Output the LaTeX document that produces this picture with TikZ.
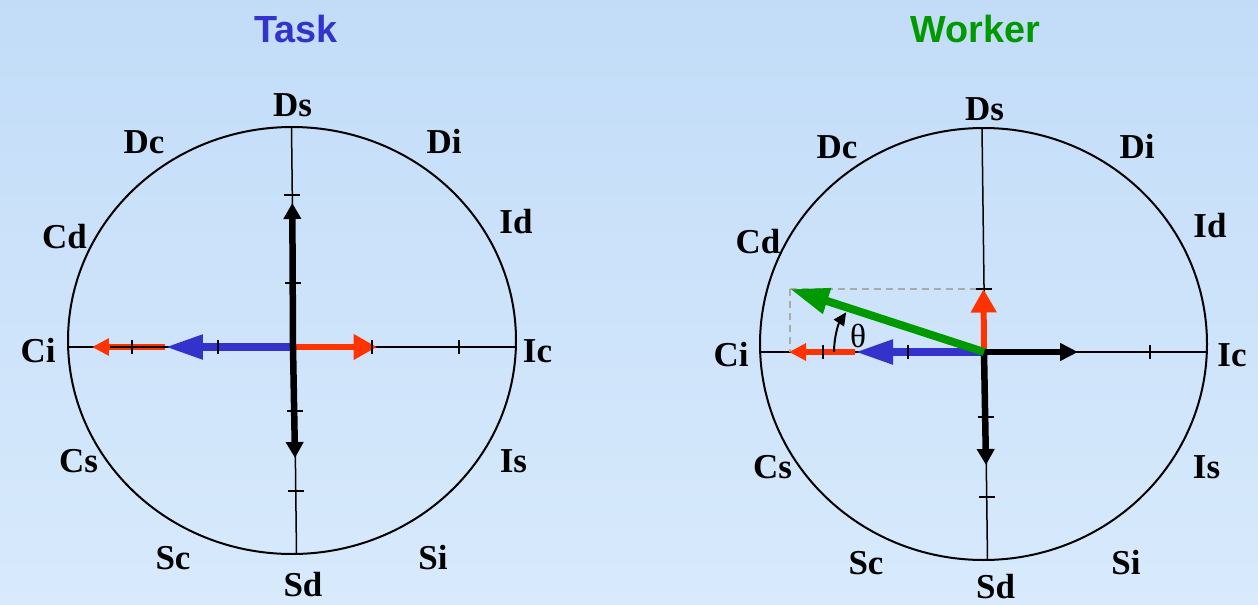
\documentclass[tikz,border=0pt]{standalone}
\usepackage{fontspec}
\setmainfont{Liberation Serif}
\newfontfamily\titlefont{Liberation Sans}
\usetikzlibrary{arrows.meta}
\definecolor{bgtop}{RGB}{194,220,248}
\definecolor{bgbot}{RGB}{216,234,252}
\definecolor{taskblue}{RGB}{51,51,204}
\definecolor{workgreen}{RGB}{0,153,0}
\definecolor{vred}{RGB}{255,51,0}
\definecolor{dashgray}{RGB}{170,170,170}
\begin{document}
\begin{tikzpicture}[x=0.02cm,y=-0.02cm,
  lbl/.style={font=\fontsize{19.9}{20}\selectfont\bfseries, inner sep=0, anchor=base},
  ttl/.style={font=\titlefont\fontsize{21.5}{22}\selectfont\bfseries, inner sep=0, anchor=base},
  rim/.style={line width=0.04cm},
  axisline/.style={line width=0.03cm},
  tickmark/.style={line width=0.03cm},
  blkarr/.style={line width=0.13cm, line cap=butt, -{Triangle[length=0.32cm,width=0.34cm]}},
  blkarrh/.style={line width=0.12cm, line cap=butt, -{Triangle[length=0.36cm,width=0.34cm]}},
  redbig/.style={vred, line width=0.12cm, -{Triangle[length=0.47cm,width=0.49cm]}},
  bluearr/.style={taskblue, line width=0.16cm, -{Triangle[length=0.76cm,width=0.46cm]}},
  redsmall/.style={vred, line width=0.11cm, -{Triangle[length=0.34cm,width=0.33cm]}},
  greenarr/.style={workgreen, line width=0.16cm, -{Triangle[length=0.78cm,width=0.5cm]}},
  guide/.style={dashgray, line width=0.03cm, dash pattern=on 0.14cm off 0.1cm},
  thetaarr/.style={line width=0.04cm, -{Triangle[length=0.26cm,width=0.24cm]}}
]
\useasboundingbox (0,0) rectangle (1258,605);
\shade[top color=bgtop, bottom color=bgbot] (0,0) rectangle (1258,605);

% ================= Titles =================
\node[ttl, text=taskblue] (ttask) at (296,42) {Task};
\node[ttl, text=workgreen] (tworker) at (975.5,42) {Worker};

% ================= Left diagram =================
\draw[rim] (292,340.5) ellipse [x radius=224, y radius=213.5];
\coordinate (Lc) at (293,347);
\coordinate (LW) at (68,347);
\coordinate (LE) at (516,347);
\coordinate (LN) at (291.5,127);
\coordinate (LS) at (296.5,554);
\draw[axisline] (LW) -- (LE);
\draw[axisline] (LN) -- (LS);

\coordinate (Lup) at (292.3,203);
\coordinate (Ldn) at (295,458);
\coordinate (Lrt) at (377,347);
\coordinate (Lbl) at (165,347);
\coordinate (Lrl) at (92,347);
\coordinate (Lax) at (110,347);

\draw[redbig] (Lc) -- (Lrt);
\draw[redsmall] (Lbl) -- (Lrl);
\draw[axisline] (Lax) -- (Lbl);
\draw[bluearr] (Lc) -- (Lbl);
\draw[blkarr] (Lc) -- (Lup);
\draw[blkarr] (Lc) -- (Ldn);

\foreach \tx in {132,218,372,459} \draw[tickmark] (\tx,340) -- (\tx,354);
\foreach \ty/\tx in {195/292.3,283/293.3,411/294.8,491/295.8} \draw[tickmark] (\tx-8,\ty) -- (\tx+8,\ty);

\node[lbl] (LDs) at (292.5,116.5) {Ds};
\node[lbl] (LDi) at (444,153.5) {Di};
\node[lbl] (LDc) at (144,153.5) {Dc};
\node[lbl] (LId) at (516,233.5) {Id};
\node[lbl] (LCd) at (64.5,248) {Cd};
\node[lbl] (LCi) at (38,362) {Ci};
\node[lbl] (LIc) at (537.5,362) {Ic};
\node[lbl] (LCs) at (78.5,472) {Cs};
\node[lbl] (LIs) at (513.5,472) {Is};
\node[lbl] (LSc) at (173,569.5) {Sc};
\node[lbl] (LSi) at (433,569.5) {Si};
\node[lbl] (LSd) at (303,596) {Sd};

% ================= Right diagram =================
\draw[rim] (983.5,344) ellipse [x radius=223.5, y radius=216];
\coordinate (Rc) at (984,352);
\coordinate (RW) at (760,352);
\coordinate (RE) at (1207,352);
\coordinate (RN) at (982,128);
\coordinate (RS) at (987.5,560);
\draw[axisline] (RW) -- (RE);
\draw[axisline] (RN) -- (RS);

\coordinate (Rrt) at (1078,352);
\coordinate (Rdn) at (986,465);
\coordinate (Rup) at (983.5,289);
\coordinate (Rbl) at (855,352);
\coordinate (Rrl) at (789,352);
\coordinate (Rg) at (790,289);
\coordinate (Rth) at (834,352);

\draw[guide] (Rg) -- (Rup);
\draw[guide] (Rg) -- (Rg |- Rc);
\draw[redsmall] (Rbl) -- (Rrl);
\draw[bluearr] (Rc) -- (Rbl);
\draw[redbig] (Rc) -- (Rup);
\draw[blkarrh] (Rc) -- (Rrt);
\draw[blkarr] (Rc) -- (Rdn);
\draw[greenarr] (Rc) -- (Rg);

\foreach \tx in {823,908,1150} \draw[tickmark] (\tx,345) -- (\tx,359);
\foreach \ty/\tx in {289/984,417/985.7,497/986.7} \draw[tickmark] (\tx-8,\ty) -- (\tx+8,\ty);

\draw[thetaarr] (Rth) arc[start angle=180, end angle=214, radius=71];
\node[font=\fontsize{19}{20}\selectfont, inner sep=0] (theta) at (858,336) {θ};

\node[lbl] (RDs) at (984.5,120) {Ds};
\node[lbl] (RDc) at (837,158.5) {Dc};
\node[lbl] (RDi) at (1137,158.5) {Di};
\node[lbl] (RId) at (1210,237.5) {Id};
\node[lbl] (RCd) at (758,253.5) {Cd};
\node[lbl] (RCi) at (731,366.5) {Ci};
\node[lbl] (RIc) at (1232,366.5) {Ic};
\node[lbl] (RCs) at (772.5,478) {Cs};
\node[lbl] (RIs) at (1206.5,478) {Is};
\node[lbl] (RSc) at (866,574.5) {Sc};
\node[lbl] (RSi) at (1126,574.5) {Si};
\node[lbl] (RSd) at (995.5,598) {Sd};
\end{tikzpicture}
\end{document}
